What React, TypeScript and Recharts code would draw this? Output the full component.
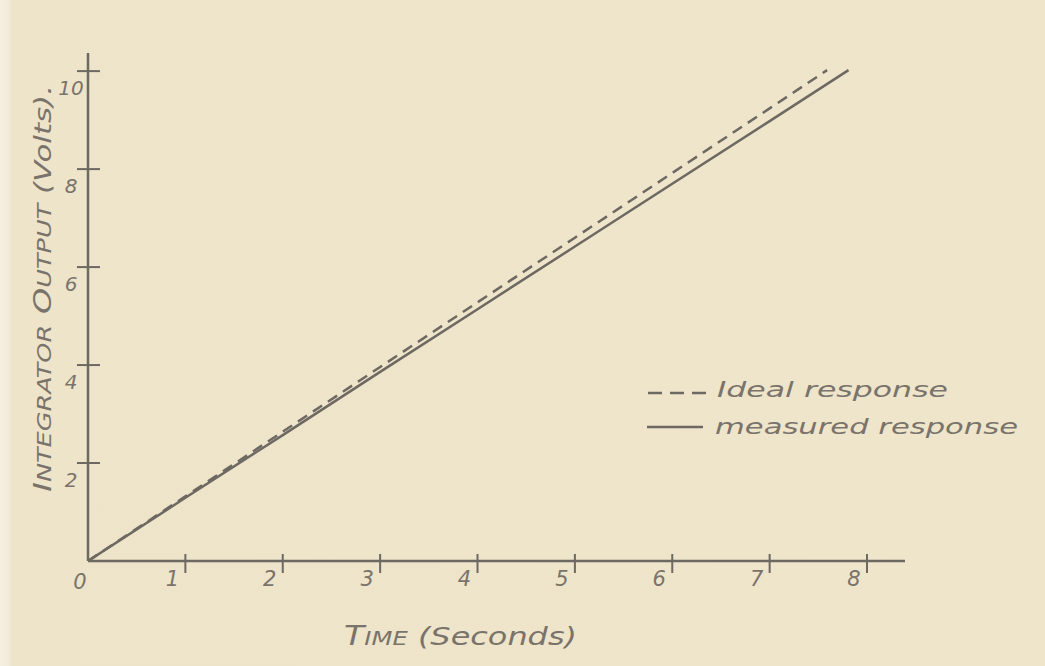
import React from "react";
import { LineChart, Line, XAxis, YAxis, Legend } from "recharts";

const idealTime = [0, 1, 2, 3, 4, 5, 6, 7, 7.59];
const idealOutput = [0, 1.32, 2.64, 3.96, 5.28, 6.6, 7.92, 9.24, 10.02];
const measuredTime = [0, 1, 2, 3, 4, 5, 6, 7, 7.81];
const measuredOutput = [0, 1.29, 2.57, 3.86, 5.14, 6.42, 7.7, 8.98, 10.02];
const xTicks = [0, 1, 2, 3, 4, 5, 6, 7, 8];
const yTicks = [2, 4, 6, 8, 10];
const xTitle = ["T", "IME", " (Seconds)"];
const yTitle = ["I", "NTEGRATOR", "  O", "UTPUT", "  (Volts)."];
const legendLabels = ["Ideal response", "measured response"];

const idealData = idealTime.map((t, i) => ({ t, v: idealOutput[i] }));
const measuredData = measuredTime.map((t, i) => ({ t, v: measuredOutput[i] }));

const INK = "#6d6861";
const TEXT = "#7a736b";
const FONT = "'DejaVu Sans', sans-serif";

const XTick = (props: any) => {
  const { x, y, payload } = props;
  const v = payload.value;
  if (v === 0) {
    return (
      <text x={x - 8} y={y + 28} fill={TEXT} fontFamily={FONT} fontStyle="italic" fontSize={21} textAnchor="middle">
        0
      </text>
    );
  }
  return (
    <g>
      <line x1={x} y1={y - 7} x2={x} y2={y + 12} stroke={INK} strokeWidth={2} />
      <text x={x - 13} y={y + 25} fill={TEXT} fontFamily={FONT} fontStyle="italic" fontSize={21} textAnchor="middle">
        {v}
      </text>
    </g>
  );
};

const YTick = (props: any) => {
  const { x, y, payload } = props;
  return (
    <g>
      <line x1={x - 11} y1={y} x2={x + 12} y2={y} stroke={INK} strokeWidth={2} />
      <text x={x - 17} y={y + 24} fill={TEXT} fontFamily={FONT} fontStyle="italic" fontSize={20} textAnchor="middle">
        {payload.value}
      </text>
    </g>
  );
};

const XTitle = () => (
  <text
    x={344}
    y={645}
    fill={TEXT}
    fontFamily={FONT}
    fontStyle="italic"
    textLength={233}
    lengthAdjust="spacingAndGlyphs"
  >
    <tspan fontSize={26}>{xTitle[0]}</tspan>
    <tspan fontSize={19}>{xTitle[1]}</tspan>
    <tspan fontSize={25}>{xTitle[2]}</tspan>
  </text>
);

const YTitle = () => (
  <text
    x={0}
    y={0}
    transform="translate(51, 492) rotate(-90)"
    fill={TEXT}
    fontFamily={FONT}
    fontStyle="italic"
    textLength={407}
    lengthAdjust="spacingAndGlyphs"
  >
    <tspan fontSize={25}>{yTitle[0]}</tspan>
    <tspan fontSize={19}>{yTitle[1]}</tspan>
    <tspan fontSize={25}>{yTitle[2]}</tspan>
    <tspan fontSize={19}>{yTitle[3]}</tspan>
    <tspan fontSize={23}>{yTitle[4]}</tspan>
  </text>
);

const LegendContent = () => (
  <svg width={400} height={80} style={{ overflow: "visible", display: "block" }}>
    <line x1={3} y1={18} x2={62} y2={18} stroke={INK} strokeWidth={2.5} strokeDasharray="14 8" />
    <text x={72} y={22} fill={TEXT} fontFamily={FONT} fontStyle="italic" fontSize={22} textLength={231} lengthAdjust="spacingAndGlyphs">
      {legendLabels[0]}
    </text>
    <line x1={2} y1={52} x2={58} y2={52} stroke={INK} strokeWidth={2.5} />
    <text x={70} y={59} fill={TEXT} fontFamily={FONT} fontStyle="italic" fontSize={22} textLength={303} lengthAdjust="spacingAndGlyphs">
      {legendLabels[1]}
    </text>
  </svg>
);

export default function App() {
  return (
    <div
      style={{
        position: "absolute",
        left: 0,
        top: 0,
        width: 1045,
        height: 666,
        background: "linear-gradient(90deg, #f4efe0 0px, #f2ebd8 9px, #ede4c9 12px, #eee5cb 100%)",
      }}
    >
      <LineChart
        width={1045}
        height={666}
        margin={{ top: 53, right: 140, bottom: 65, left: 48 }}
      >
        <XAxis
          dataKey="t"
          type="number"
          domain={[0, 8.39]}
          ticks={xTicks}
          interval={0}
          allowDataOverflow
          height={40}
          axisLine={{ stroke: INK, strokeWidth: 2.5 }}
          tickLine={false}
          tickSize={0}
          tickMargin={0}
          tick={<XTick />}
          label={<XTitle />}
        />
        <YAxis
          dataKey="v"
          type="number"
          domain={[0, 10.37]}
          ticks={yTicks}
          interval={0}
          allowDataOverflow
          width={40}
          axisLine={{ stroke: INK, strokeWidth: 2.5 }}
          tickLine={false}
          tickSize={0}
          tickMargin={0}
          tick={<YTick />}
          label={<YTitle />}
        />
        <Legend
          layout="horizontal"
          verticalAlign="middle"
          align="center"
          wrapperStyle={{ position: "absolute", left: 645, top: 375, width: 400, height: 80 }}
          content={<LegendContent />}
        />
        <Line
          data={idealData}
          dataKey="v"
          type="linear"
          stroke={INK}
          strokeWidth={2.5}
          strokeDasharray="11 7"
          dot={false}
          isAnimationActive={false}
        />
        <Line
          data={measuredData}
          dataKey="v"
          type="linear"
          stroke={INK}
          strokeWidth={2.5}
          dot={false}
          isAnimationActive={false}
        />
      </LineChart>
    </div>
  );
}
